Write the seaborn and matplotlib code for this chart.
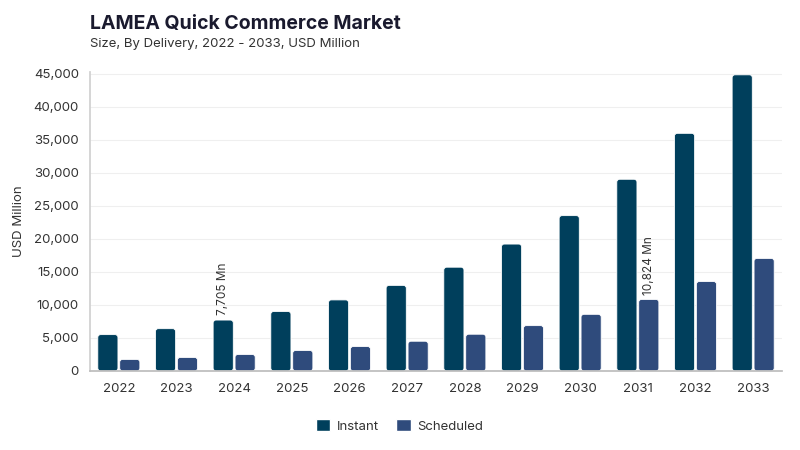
import numpy as np
import pandas as pd
import seaborn as sns
import matplotlib.pyplot as plt
from matplotlib.ticker import FuncFormatter
from matplotlib.patches import FancyBboxPatch

years = [str(y) for y in range(2022, 2034)]
instant = [5500, 6400, 7705, 9000, 10750, 12950, 15700, 19200, 23500, 29000, 35950, 44800]
scheduled = [1750, 2050, 2500, 3100, 3700, 4500, 5560, 6860, 8570, 10824, 13530, 17030]
segments = ['Instant', 'Scheduled']
colors = ['#003f5c', '#2f4b7c']

# callouts: (year, segment, value)
callouts = [('2024', 'Instant', 7705), ('2031', 'Scheduled', 10824)]

df = pd.DataFrame({
    'year': years * 2,
    'segment': ['Instant'] * len(years) + ['Scheduled'] * len(years),
    'value': instant + scheduled,
})

sns.set_theme(style='white')
plt.rcParams['font.family'] = ['Inter', 'DejaVu Sans']

fig = plt.figure(figsize=(8, 4.5), dpi=100)
ax = fig.add_axes([0.1125, 0.1756, 0.865, 0.664])

sns.barplot(data=df, x='year', y='value', hue='segment', hue_order=segments,
            palette=colors, saturation=1, width=0.76, gap=0.08, ax=ax, legend=True)

ax.set_xlim(-0.5, 11.5)
ax.set_ylim(0, 45200)

# swap plain rectangles for slightly rounded ones
ax_w = fig.get_figwidth() * fig.dpi * 0.865
ax_h = fig.get_figheight() * fig.dpi * 0.664
aspect = (45200 / ax_h) / (12 / ax_w)
for bar in list(ax.patches):
    if bar.get_height() <= 0:
        continue
    rb = FancyBboxPatch((bar.get_x(), bar.get_y()), bar.get_width(), bar.get_height(),
                        boxstyle='round,pad=0,rounding_size=0.05', mutation_aspect=aspect,
                        facecolor=bar.get_facecolor(), edgecolor='white', linewidth=0.6,
                        zorder=bar.get_zorder())
    ax.add_patch(rb)
    bar.set_visible(False)

ax.set_yticks(np.arange(0, 45001, 5000))
ax.yaxis.set_major_formatter(FuncFormatter(lambda v, p: f'{int(v):,}'))
ax.grid(axis='y', color='#efefef', linewidth=0.8)
ax.set_axisbelow(True)
for s in ['top', 'right']:
    ax.spines[s].set_visible(False)
ax.spines['left'].set_color('#d0d0d0')
ax.spines['bottom'].set_color('#bdbdbd')
ax.tick_params(axis='both', labelsize=9.5, colors='#333333', length=0, pad=8)
ax.tick_params(axis='x', pad=9)
ax.set_xlabel('')
ax.set_ylabel('USD Million', fontsize=9.5, color='#333333', labelpad=6)

# value callouts above selected bars
offsets = {'Instant': -0.2, 'Scheduled': 0.2}
for yr, seg, val in callouts:
    xi = years.index(yr) + offsets[seg]
    ax.text(xi, val + 700, f'{val:,} Mn', rotation=90, ha='center', va='bottom',
            fontsize=8.5, color='#333333')

leg = ax.legend(loc='upper center', bbox_to_anchor=(0.447, -0.12), ncol=2, frameon=False,
                fontsize=9.5, handlelength=1.1, handleheight=1.1, columnspacing=1.3,
                handletextpad=0.5)
for t in leg.get_texts():
    t.set_color('#333333')

fig.text(0.1125, 0.935, 'LAMEA Quick Commerce Market', fontsize=14, fontweight='bold',
         color='#1a1a2e')
fig.text(0.1125, 0.895, 'Size, By Delivery, 2022 - 2033, USD Million', fontsize=9.5,
         color='#333333')

fig.savefig('out.png', dpi=100, facecolor='white')
